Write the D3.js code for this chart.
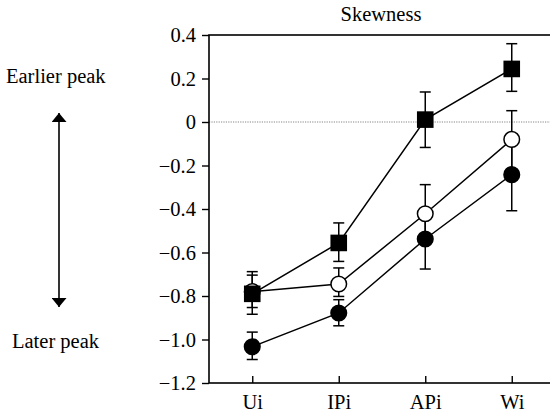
<!DOCTYPE html>
<html>
<head>
<meta charset="utf-8">
<script src="https://cdn.jsdelivr.net/npm/d3@7"></script>
<style>
  html, body { margin: 0; padding: 0; background: #fff; }
  svg text { font-family: "Liberation Serif", Tinos, "Times New Roman", serif !important; }
</style>
</head>
<body>
<svg id="chart" width="550" height="413"></svg>
<script>
// ---- data ----
const categories = ["Ui", "IPi", "APi", "Wi"];
const yTicks = [0.4, 0.2, 0, -0.2, -0.4, -0.6, -0.8, -1.0, -1.2];

const squareMean  = [-0.79, -0.556, 0.011, 0.244];
const squareUpper = [-0.688, -0.464, 0.138, 0.36];
const squareLower = [-0.884, -0.641, -0.117, 0.141];

const openMean  = [-0.78, -0.745, -0.422, -0.08];
const openUpper = [-0.704, -0.671, -0.288, 0.052];
const openLower = [-0.853, -0.802, -0.56, -0.22];

const filledMean  = [-1.033, -0.878, -0.538, -0.242];
const filledUpper = [-0.966, -0.817, -0.40, -0.10];
const filledLower = [-1.092, -0.937, -0.676, -0.408];

// ---- layout ----
const svg = d3.select("#chart");
const mLeft = 209, mRight = 555, mTop = 35, mBottom = 383;

const x = d3.scalePoint().domain(categories).range([mLeft, mRight]).padding(0.5);
const y = d3.scaleLinear().domain([-1.2, 0.4]).range([mBottom, mTop]);

const fontSize = 20.5;
const serif = "'Liberation Serif', Tinos, 'Times New Roman', serif";

// title
svg.append("text").attr("x", (mLeft + mRight) / 2 - 1).attr("y", 21)
  .attr("text-anchor", "middle").attr("font-size", fontSize).attr("font-family", serif).text("Skewness");

// zero reference line (dotted)
svg.append("line")
  .attr("x1", mLeft).attr("x2", mRight).attr("y1", y(0)).attr("y2", y(0))
  .attr("stroke", "#666").attr("stroke-width", 0.8).attr("stroke-dasharray", "1.2,1.2");

// frame
svg.append("rect").attr("x", mLeft).attr("y", mTop)
  .attr("width", mRight - mLeft).attr("height", mBottom - mTop)
  .attr("fill", "none").attr("stroke", "#000").attr("stroke-width", 1.6);

// y axis
const yAxis = d3.axisLeft(y).tickValues(yTicks).tickSize(7).tickPadding(6)
  .tickFormat(d => {
    let s = d === 0 ? "0" : d3.format(".1f")(Math.abs(d));
    return d < 0 ? "\u2212" + s : s;
  });
const gy = svg.append("g").attr("transform", `translate(${mLeft},0)`).call(yAxis)
  .attr("font-family", serif).attr("font-size", fontSize);
gy.select(".domain").remove();
gy.selectAll(".tick line").attr("stroke", "#000").attr("stroke-width", 1.4);
gy.selectAll(".tick text").attr("fill", "#000");

// x axis (ticks inward)
const xAxis = d3.axisBottom(x).tickSize(-7).tickPadding(11);
const gx = svg.append("g").attr("transform", `translate(0,${mBottom})`).call(xAxis)
  .attr("font-family", serif).attr("font-size", fontSize);
gx.select(".domain").remove();
gx.selectAll(".tick line").attr("stroke", "#000").attr("stroke-width", 1.4);
gx.selectAll(".tick text").attr("fill", "#000");

// left annotation
svg.append("text").attr("x", 6).attr("y", 83).attr("font-size", fontSize).attr("font-family", serif).text("Earlier peak");
svg.append("text").attr("x", 12).attr("y", 348).attr("font-size", fontSize).attr("font-family", serif).text("Later peak");

const defs = svg.append("defs");
defs.append("marker").attr("id", "ah").attr("viewBox", "0 0 10 10")
  .attr("refX", 10).attr("refY", 5).attr("markerWidth", 9).attr("markerHeight", 15)
  .attr("markerUnits", "userSpaceOnUse").attr("orient", "auto-start-reverse")
  .attr("preserveAspectRatio", "none")
  .append("path").attr("d", "M0,0 L10,5 L0,10 Z").attr("fill", "#000");
svg.append("line").attr("x1", 59).attr("x2", 59).attr("y1", 113).attr("y2", 307)
  .attr("stroke", "#000").attr("stroke-width", 1.6)
  .attr("marker-start", "url(#ah)").attr("marker-end", "url(#ah)");

// ---- series ----
const series = [
  { mean: openMean, upper: openUpper, lower: openLower, shape: "circle", fill: "#fff" },
  { mean: filledMean, upper: filledUpper, lower: filledLower, shape: "circle", fill: "#000" },
  { mean: squareMean, upper: squareUpper, lower: squareLower, shape: "square", fill: "#000" }
];

const line = d3.line().x((d, i) => x(categories[i])).y(d => y(d));

series.forEach(s => {
  svg.append("path").attr("d", line(s.mean))
    .attr("fill", "none").attr("stroke", "#000").attr("stroke-width", 1.5);
});

const cap = 5.5;
series.forEach(s => {
  const g = svg.append("g").attr("stroke", "#000").attr("stroke-width", 1.5);
  categories.forEach((c, i) => {
    const cx = x(c);
    g.append("line").attr("x1", cx).attr("x2", cx).attr("y1", y(s.upper[i])).attr("y2", y(s.lower[i]));
    g.append("line").attr("x1", cx - cap).attr("x2", cx + cap).attr("y1", y(s.upper[i])).attr("y2", y(s.upper[i]));
    g.append("line").attr("x1", cx - cap).attr("x2", cx + cap).attr("y1", y(s.lower[i])).attr("y2", y(s.lower[i]));
  });
});

series.forEach(s => {
  categories.forEach((c, i) => {
    const cx = x(c), cy = y(s.mean[i]);
    if (s.shape === "circle") {
      svg.append("circle").attr("cx", cx).attr("cy", cy).attr("r", 7.8)
        .attr("fill", s.fill).attr("stroke", "#000").attr("stroke-width", 1.5);
    } else {
      svg.append("rect").attr("x", cx - 8.3).attr("y", cy - 8.3).attr("width", 16.6).attr("height", 16.6)
        .attr("fill", s.fill).attr("stroke", "none");
    }
  });
});
</script>
</body>
</html>
